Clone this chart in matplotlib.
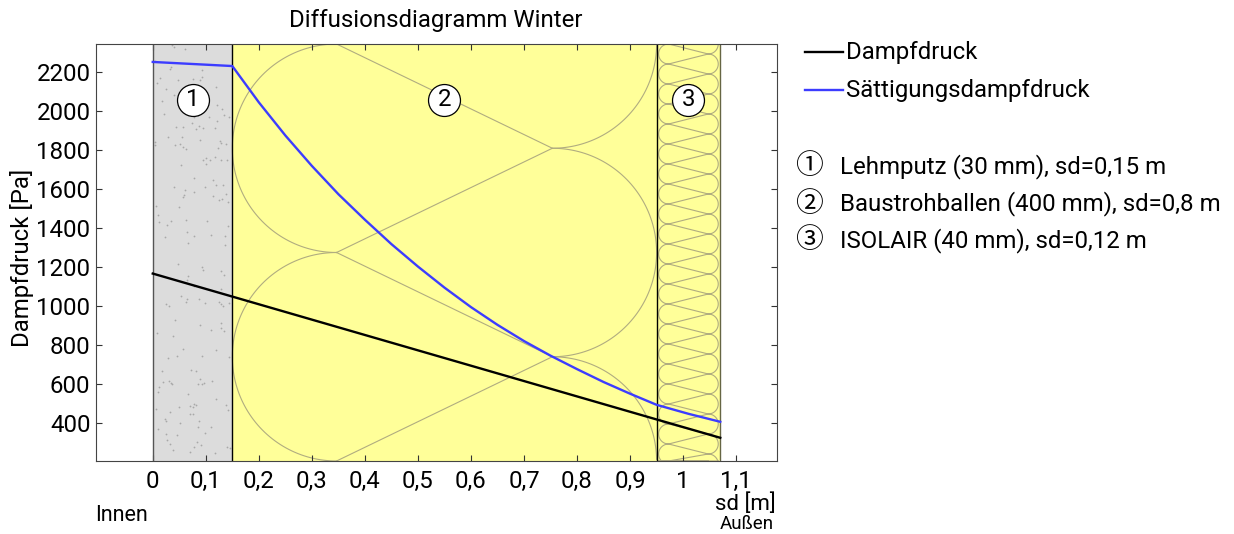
import numpy as np
import matplotlib
matplotlib.use('Agg')
import matplotlib.pyplot as plt
from matplotlib.lines import Line2D

plt.rcParams['font.family'] = ['Roboto', 'Noto Sans CJK SC', 'DejaVu Sans']

# Schichtaufbau (innen -> aussen)
layer_names = ['Lehmputz (30 mm), sd=0,15 m',
               'Baustrohballen (400 mm), sd=0,8 m',
               'ISOLAIR (40 mm), sd=0,12 m']
layer_sd = [0.15, 0.8, 0.12]
layer_colors = ['#dcdcdc', '#ffff99', '#ffff99']
layer_marks = ['①', '②', '③']

# Saettigungsdampfdruck ueber sd
sd_sat = [0, 0.15, 0.20, 0.25, 0.30, 0.35, 0.40, 0.45, 0.50, 0.55, 0.60,
          0.65, 0.70, 0.75, 0.80, 0.85, 0.90, 0.95, 1.01, 1.07]
p_sat = [2250, 2229, 2043, 1873, 1717, 1572, 1441, 1316, 1201, 1093, 993,
         902, 819, 744, 675, 609, 549, 492, 446, 405]
# Dampfdruck
sd_vap = [0, 0.15, 0.95, 1.07]
p_vap = [1165, 1047, 417, 323]

x_ticks = [0, 0.1, 0.2, 0.3, 0.4, 0.5, 0.6, 0.7, 0.8, 0.9, 1.0, 1.1]
y_ticks = [400, 600, 800, 1000, 1200, 1400, 1600, 1800, 2000, 2200]

FS = 17.3
W, H = 1234, 534
fig = plt.figure(figsize=(W / 100, H / 100), dpi=100)
ax = fig.add_axes([96 / W, (H - 461) / H, 681 / W, 417 / H])

sd_total = sum(layer_sd)
xmin, xmax = -0.1 * sd_total, 1.1 * sd_total
ymin, ymax = 204, 2342
ax.set_xlim(xmin, xmax)
ax.set_ylim(ymin, ymax)

# data units per pixel
dx = (xmax - xmin) / 681
dy = (ymax - ymin) / 417

edges = np.concatenate([[0], np.cumsum(layer_sd)])
pat_col = '#b0ac80'

for i in range(3):
    ax.axvspan(edges[i], edges[i + 1], color=layer_colors[i], zorder=0, lw=0)

# layer 1: speckle texture
rng = np.random.default_rng(7)
n = 170
ax.scatter(rng.uniform(edges[0] + 0.004, edges[1] - 0.004, n),
           rng.uniform(ymin, ymax, n), s=1.6, color='#a8a8a8', lw=0, zorder=1)

# layer 2: straw bale pattern
r = 417 / 4
xl = edges[1] + r * dx
xr = edges[2] - r * dx
for yc in [ymax - r * dy, ymax - 3 * r * dy]:
    tl = np.linspace(np.pi / 2, 3 * np.pi / 2, 100)
    ax.plot(xl + r * dx * np.cos(tl), yc + r * dy * np.sin(tl), color=pat_col, lw=0.8, zorder=1)
    ax.plot([xl, xr, xl], [yc + r * dy, yc, yc - r * dy], color=pat_col, lw=0.8, zorder=1)
for yc in [ymax, ymax - 2 * r * dy, ymin]:
    tr = np.linspace(-np.pi / 2, np.pi / 2, 100)
    xs = xr + r * dx * np.cos(tr)
    ys = yc + r * dy * np.sin(tr)
    m = (ys <= ymax) & (ys >= ymin)
    ax.plot(xs[m], ys[m], color=pat_col, lw=0.8, zorder=1)

# layer 3: insulation loops
r3 = 10
P = 20
xL = edges[2] + (r3 + 2) * dx
xR = edges[3] - (r3 + 2) * dx
px, py = [], []
yc = ymax + r3 * dy
while yc > ymin - 2 * P * dy:
    tl = np.linspace(np.pi / 2, 3 * np.pi / 2, 30)
    px += list(xL + r3 * dx * np.cos(tl))
    py += list(yc + r3 * dy * np.sin(tl))
    ycr = yc - P / 2 * dy
    tr = np.linspace(np.pi / 2, -np.pi / 2, 30)
    px += list(xR + r3 * dx * np.cos(tr))
    py += list(ycr + r3 * dy * np.sin(tr))
    yc -= P * dy
px, py = np.array(px), np.array(py)
py = np.clip(py, ymin, ymax)
ax.plot(px, py, color=pat_col, lw=0.8, zorder=1)

# layer borders
ax.axvline(edges[0], color='#555555', lw=1, zorder=2)
ax.axvline(edges[1], color='black', lw=1, zorder=2)
ax.axvline(edges[2], color='black', lw=1, zorder=2)
ax.axvline(edges[3], color='#666644', lw=1, zorder=2)

ax.plot(sd_vap, p_vap, color='black', lw=1.7, zorder=3)
ax.plot(sd_sat, p_sat, color='#3c3cff', lw=1.7, zorder=3)

# layer numbers
mids = (edges[:-1] + edges[1:]) / 2
tr_bl = ax.get_xaxis_transform()
for i, xm in enumerate(mids):
    ax.plot(xm, 0.866, 'o', ms=23, mfc='white', mec='black', mew=0.9,
            transform=tr_bl, zorder=4)
    ax.text(xm, 0.866, str(i + 1), ha='center', va='center', fontsize=FS,
            transform=tr_bl, zorder=5)

ax.set_xticks(x_ticks)
ax.set_xticklabels([f'{v:g}'.replace('.', ',') for v in x_ticks])
ax.set_yticks(y_ticks)
ax.tick_params(direction='in', top=True, right=True, length=4, labelsize=FS,
               color='#333333')
ax.tick_params(axis='x', pad=6.5)
ax.tick_params(axis='y', pad=4)
for s in ax.spines.values():
    s.set_color('#444444')
    s.set_zorder(5)

fig.text(436 / W, 1 - 20 / H, 'Diffusionsdiagramm Winter', ha='center', va='center', fontsize=FS)
fig.text(22 / W, 1 - 258 / H, 'Dampfdruck [Pa]', ha='center', va='center', rotation=90, fontsize=FS)
fig.text(745 / W, 1 - 510 / H, 'sd [m]', ha='center', va='baseline', fontsize=16)
fig.text(747 / W, 1 - 529 / H, 'Außen', ha='center', va='baseline', fontsize=13.5)
fig.text(95 / W, 1 - 521 / H, 'Innen', ha='left', va='baseline', fontsize=15.5)

# legend
for yy, col, lab in [(52, 'black', 'Dampfdruck'), (90, '#3c3cff', 'Sättigungsdampfdruck')]:
    fig.add_artist(Line2D([805 / W, 843 / W], [1 - yy / H] * 2, color=col, lw=1.7))
    fig.text(846 / W, 1 - yy / H, lab, va='center', fontsize=FS)
for i, (mk, name) in enumerate(zip(layer_marks, layer_names)):
    yy = 167 + 37 * i
    fig.text(809 / W, 1 - yy / H, mk, ha='center', va='center', fontsize=20)
    fig.text(840 / W, 1 - yy / H, name, va='center', fontsize=FS)

fig.savefig('out.png', dpi=100)
